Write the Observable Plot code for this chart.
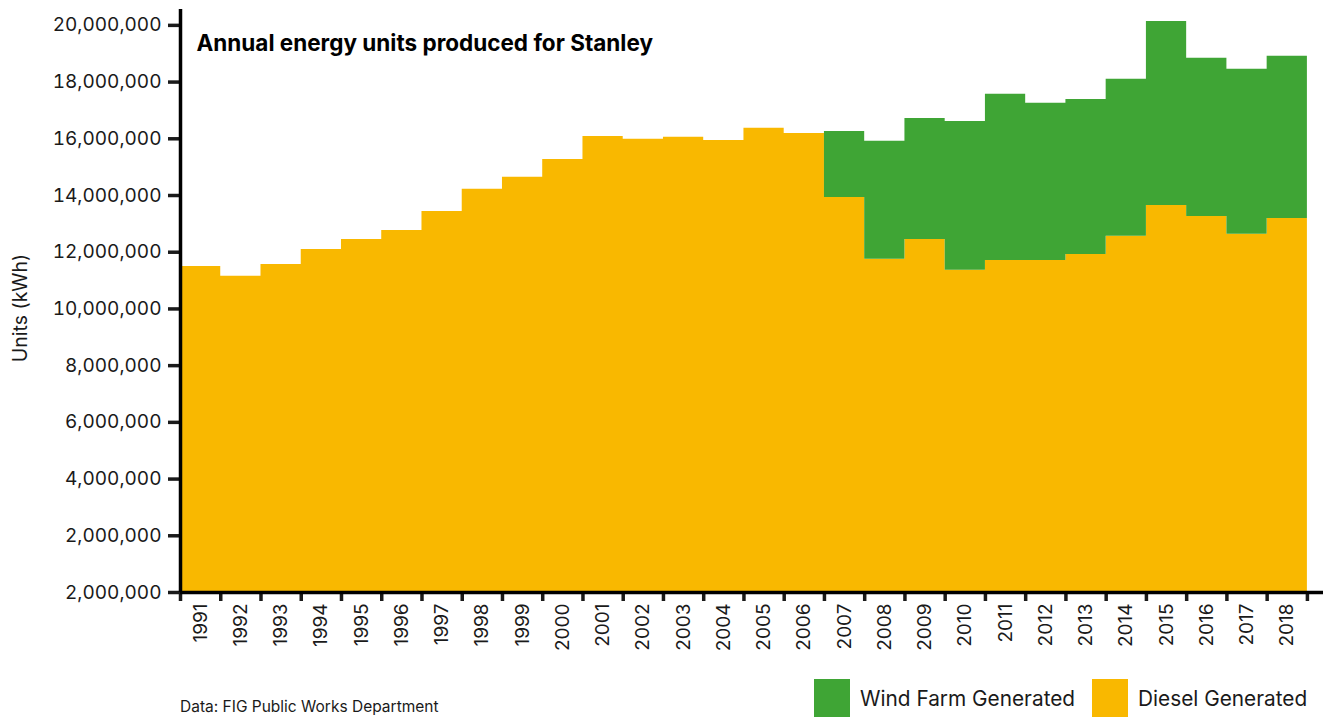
<!DOCTYPE html>
<html>
<head>
<meta charset="utf-8">
<script src="https://cdn.jsdelivr.net/npm/d3@7"></script>
<script src="https://cdn.jsdelivr.net/npm/@observablehq/plot@0.6"></script>
<style>
  html, body { margin: 0; padding: 0; background: #fff; }
  body { font-family: Inter, "Noto Sans", sans-serif; }
  #wrap { position: relative; width: 1323px; height: 717px; overflow: hidden; }
  #chart svg { display: block; }
  .legend { position: absolute; top: 679px; height: 38px; display: flex; align-items: center; font-size: 20.8px; color: #1a1a1a; }
  .sw { width: 36px; height: 38px; margin-right: 10px; }
  .caption { position: absolute; left: 180px; top: 698px; font-size: 15.5px; line-height: 18px; color: #1a1a1a; white-space: nowrap; }
</style>
</head>
<body>
<div id="wrap">
  <div id="chart"></div>
  <div class="legend" style="left:814px"><div class="sw" style="background:#3fa535"></div>Wind Farm Generated</div>
  <div class="legend" style="left:1092px"><div class="sw" style="background:#f9b800"></div>Diesel Generated</div>
  <div class="caption">Data: FIG Public Works Department</div>
</div>
<script>
const years = [1991,1992,1993,1994,1995,1996,1997,1998,1999,2000,2001,2002,2003,2004,2005,2006,2007,2008,2009,2010,2011,2012,2013,2014,2015,2016,2017,2018];
const diesel = [11.50,11.15,11.57,12.10,12.45,12.77,13.44,14.22,14.64,15.27,16.08,15.98,16.05,15.94,16.37,16.19,13.93,11.75,12.45,11.36,11.71,11.71,11.92,12.56,13.65,13.26,12.63,13.19].map(v => v * 1e6);
const wind = [0,0,0,0,0,0,0,0,0,0,0,0,0,0,0,0,2.33,4.16,4.27,5.25,5.86,5.54,5.47,5.54,6.49,5.58,5.82,5.72].map(v => v * 1e6);
const seriesNames = ["Diesel Generated", "Wind Farm Generated"];
const seriesColors = ["#f9b800", "#3fa535"];
const yTickValues = [0,2e6,4e6,6e6,8e6,10e6,12e6,14e6,16e6,18e6,20e6];
const yTickLabels = ["2,000,000","2,000,000","4,000,000","6,000,000","8,000,000","10,000,000","12,000,000","14,000,000","16,000,000","18,000,000","20,000,000"];
const titleText = "Annual energy units produced for Stanley";
const yLabel = "Units (kWh)";

// Build the stacked table; the last year is repeated at its end boundary so the step covers its band.
const rows = [];
const ends = [...years, years[years.length - 1] + 1];
seriesNames.forEach((name, s) => {
  const vals = s === 0 ? diesel : wind;
  ends.forEach((yr, i) => rows.push({year: yr, series: name, value: vals[Math.min(i, vals.length - 1)]}));
});
const boundaries = ends;

const chart = Plot.plot({
  width: 1323,
  height: 670,
  marginLeft: 180,
  marginTop: 7,
  marginRight: 0,
  marginBottom: 78,
  style: {fontFamily: "Inter, sans-serif", color: "#1a1a1a", background: "#fff"},
  x: {domain: [1991, 2019.4], axis: null},
  y: {domain: [0, 20.63e6], axis: null},
  color: {domain: seriesNames, range: seriesColors},
  marks: [
    Plot.areaY(rows, {x: "year", y: "value", z: "series", fill: "series", curve: "step-after", order: seriesNames}),
    Plot.axisY({ticks: yTickValues, tickSize: 12, tickPadding: 7, strokeWidth: 3.5, fontSize: 19, fill: "#1a1a1a",
      tickFormat: (d) => yTickLabels[yTickValues.indexOf(d)], label: null}),
    Plot.axisX({ticks: boundaries, tickSize: 9, strokeWidth: 3.5, tickFormat: () => "", label: null}),
    Plot.text(years, {x: d => d + 0.5, frameAnchor: "bottom", rotate: -90, textAnchor: "end", lineAnchor: "middle",
      dy: 11, text: d => String(d), fontSize: 19, fill: "#1a1a1a"}),
    Plot.ruleX([1991], {y1: 0, y2: 20.63e6, strokeWidth: 3.5, stroke: "#000", insetBottom: -2}),
    Plot.ruleY([0], {strokeWidth: 3.5, stroke: "#000"}),
    Plot.text([titleText], {frameAnchor: "top-left", dx: 16, dy: 28, text: d => d, fontSize: 22.5, fontWeight: "bold", fill: "#000", lineAnchor: "top"}),
    Plot.text([yLabel], {frameAnchor: "left", dx: -160, dy: 8, rotate: -90, text: d => d, fontSize: 19.5, fill: "#1a1a1a", textAnchor: "middle", lineAnchor: "middle"})
  ]
});
document.getElementById("chart").appendChild(chart);
</script>
</body>
</html>
